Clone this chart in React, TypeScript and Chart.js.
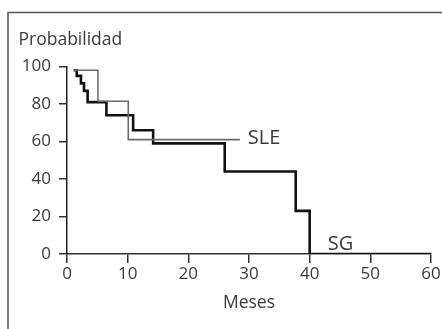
import React, { useEffect, useRef } from "react";
import { Chart, registerables } from "chart.js";

Chart.register(...registerables);

// Kaplan-Meier style step data (months, probability %)
const sgMonths = [1.1, 1.6, 2.3, 2.8, 3.4, 6.5, 10.9, 14.2, 26.0, 37.7, 40.0, 60.0];
const sgValues = [98, 95, 91, 87, 81, 74, 66, 59, 44, 23, 0, 0];

const sleMonths = [1.1, 5.1, 10.1, 28.5];
const sleValues = [98, 81.5, 61, 61];

const xTicks = [0, 10, 20, 30, 40, 50, 60];
const yTicks = [0, 20, 40, 60, 80, 100];

const yAxisTitle = "Probabilidad";
const xAxisTitle = "Meses";
const seriesLabels = ["SG", "SLE"];
const labelAnchors = [
  { x: 43.0, y: 5.0 },
  { x: 29.8, y: 61.5 },
];

const FONT = "'Open Sans', 'DejaVu Sans', sans-serif";
const TEXT = "#3a3a3a";

const decorPlugin = {
  id: "decor",
  beforeDraw(chart: any) {
    const { ctx } = chart;
    ctx.save();
    ctx.fillStyle = "#ffffff";
    ctx.fillRect(0, 0, chart.width, chart.height);
    ctx.strokeStyle = "#555";
    ctx.lineWidth = 1.5;
    ctx.beginPath();
    ctx.moveTo(8, chart.height + 5);
    ctx.lineTo(8, 12.5);
    ctx.lineTo(chart.width + 5, 12.5);
    ctx.stroke();
    ctx.restore();
  },
  afterDraw(chart: any) {
    const { ctx } = chart;
    const xs = chart.scales.x;
    const ys = chart.scales.y;
    ctx.save();
    ctx.fillStyle = TEXT;
    ctx.font = `17.5px ${FONT}`;
    ctx.textAlign = "left";
    ctx.textBaseline = "alphabetic";
    ctx.fillText(yAxisTitle, 18.5, 45);
    ctx.font = `20px ${FONT}`;
    ctx.textBaseline = "middle";
    seriesLabels.forEach((t, i) => {
      const a = labelAnchors[i];
      ctx.fillText(t, xs.getPixelForValue(a.x), ys.getPixelForValue(a.y));
    });
    ctx.restore();
  },
};

export default function App() {
  const ref = useRef<HTMLCanvasElement | null>(null);
  useEffect(() => {
    if (!ref.current) return;
    const chart = new Chart(ref.current, {
      type: "line",
      data: {
        datasets: [
          {
            label: "SLE",
            data: sleMonths.map((m, i) => ({ x: m, y: sleValues[i] })),
            stepped: "before",
            borderColor: "#6a6a6a",
            borderWidth: 1.6,
            pointRadius: 0,
            fill: false,
          },
          {
            label: "SG",
            data: sgMonths.map((m, i) => ({ x: m, y: sgValues[i] })),
            stepped: "before",
            borderColor: "#111111",
            borderWidth: 2.6,
            pointRadius: 0,
            fill: false,
          },
        ],
      },
      options: {
        animation: false,
        responsive: false,
        layout: { padding: { top: 66.5, right: 11, left: 0, bottom: 0 } },
        plugins: { legend: { display: false }, tooltip: { enabled: false } },
        scales: {
          x: {
            type: "linear",
            min: 0,
            max: 60,
            afterFit: (s: any) => {
              s.height = 75;
            },
            afterBuildTicks: (s: any) => {
              s.ticks = xTicks.map((v) => ({ value: v }));
            },
            ticks: {
              color: TEXT,
              font: { family: FONT, size: 17 },
              padding: 1,
              maxRotation: 0,
            },
            grid: {
              display: true,
              drawOnChartArea: false,
              drawTicks: true,
              tickLength: 9,
              color: "#333",
              lineWidth: 1.5,
            },
            border: { display: true, color: "#333", width: 1.5 },
            title: {
              display: true,
              text: xAxisTitle,
              color: TEXT,
              font: { family: FONT, size: 17.5 },
              padding: { top: 0, bottom: 15 },
            },
          },
          y: {
            type: "linear",
            min: 0,
            max: 100,
            afterFit: (s: any) => {
              s.width = 67;
            },
            afterBuildTicks: (s: any) => {
              s.ticks = yTicks.map((v) => ({ value: v }));
            },
            ticks: {
              color: TEXT,
              font: { family: FONT, size: 17 },
              padding: 8,
            },
            grid: {
              display: true,
              drawOnChartArea: false,
              drawTicks: true,
              tickLength: 8,
              color: "#333",
              lineWidth: 1.5,
            },
            border: { display: true, color: "#222", width: 1.5 },
          },
        },
      },
      plugins: [decorPlugin],
    });
    return () => chart.destroy();
  }, []);
  return (
    <canvas
      ref={ref}
      width={442}
      height={329}
      style={{ position: "fixed", left: 0, top: 0, width: 442, height: 329, display: "block" }}
    />
  );
}
